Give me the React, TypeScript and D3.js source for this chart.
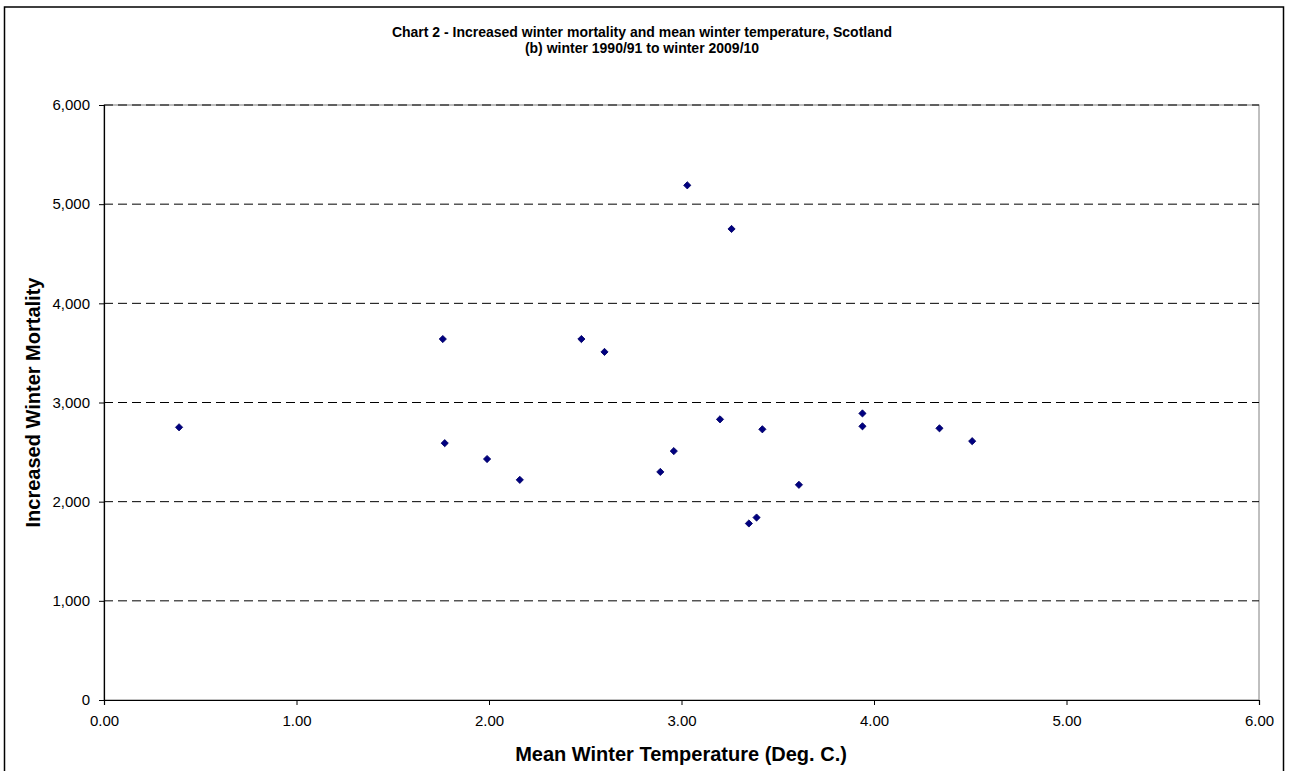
import { useEffect, useRef } from "react";
import * as d3 from "d3";

const temperature = [
  0.39, 1.76, 1.77, 1.99, 2.16, 2.48, 2.6, 2.89, 2.96, 3.03,
  3.2, 3.26, 3.35, 3.39, 3.42, 3.61, 3.94, 3.94, 4.34, 4.51,
];
const mortality = [
  2750, 3640, 2590, 2430, 2220, 3640, 3510, 2300, 2510, 5190,
  2830, 4750, 1780, 1840, 2730, 2170, 2890, 2760, 2740, 2610,
];
const xTicks = [0, 1, 2, 3, 4, 5, 6];
const yTicks = [0, 1000, 2000, 3000, 4000, 5000, 6000];

const W = 1290;
const H = 771;
const left = 104;
const right = 1259;
const top = 105;
const bottom = 700;
const font = "'Liberation Sans', Arial, sans-serif";

export default function App() {
  const gx = useRef<SVGGElement>(null);
  const gy = useRef<SVGGElement>(null);

  const x = d3.scaleLinear().domain([0, 6]).range([left, right]);
  const y = d3.scaleLinear().domain([0, 6000]).range([bottom, top]);

  useEffect(() => {
    const ax = d3
      .axisBottom(x)
      .tickValues(xTicks)
      .tickFormat((d) => d3.format(".2f")(d as number))
      .tickSize(5)
      .tickPadding(10);
    const sx = d3.select(gx.current!).call(ax);
    sx.select(".domain").attr("stroke", "#000").attr("stroke-width", 1.2);
    sx.selectAll(".tick line").attr("stroke", "#000");
    sx.selectAll(".tick text")
      .attr("font-family", font)
      .attr("font-size", 15)
      .attr("fill", "#000");

    const ay = d3
      .axisLeft(y)
      .tickValues(yTicks)
      .tickFormat((d) => d3.format(",")(d as number))
      .tickSize(5)
      .tickPadding(9);
    const sy = d3.select(gy.current!).call(ay);
    sy.select(".domain").attr("stroke", "#000").attr("stroke-width", 1.2);
    sy.selectAll(".tick line").attr("stroke", "#000");
    sy.selectAll(".tick text")
      .attr("font-family", font)
      .attr("font-size", 15)
      .attr("fill", "#000");
  }, []);

  const diamond = d3.symbol().type(d3.symbolSquare).size(26)();

  return (
    <svg
      width={W}
      height={H}
      style={{ position: "absolute", left: 0, top: 0, background: "#fff" }}
    >
      <rect x={4.5} y={7} width={1279} height={780} fill="#fff" stroke="#000" strokeWidth={1.5} />
      <text x={642} y={37} textAnchor="middle" fontFamily={font} fontSize={14} fontWeight="bold">
        Chart 2 - Increased winter mortality and mean winter temperature, Scotland
      </text>
      <text x={642} y={53} textAnchor="middle" fontFamily={font} fontSize={14} fontWeight="bold">
        (b) winter 1990/91 to winter 2009/10
      </text>

      <rect x={left} y={top} width={right - left} height={bottom - top} fill="#fff" stroke="#808080" strokeWidth={1} />
      {yTicks.filter((t) => t > 0).map((t) => (
        <line
          key={t}
          x1={left}
          x2={right}
          y1={y(t)}
          y2={y(t)}
          stroke="#000"
          strokeWidth={1}
          strokeDasharray="9,5"
        />
      ))}

      <g ref={gx} transform={`translate(0,${bottom})`} />
      <g ref={gy} transform={`translate(${left},0)`} />

      {temperature.map((t, i) => (
        <path
          key={i}
          d={diamond!}
          transform={`translate(${x(t)},${y(mortality[i])}) rotate(45)`}
          fill="#000080"
          stroke="#000066"
          strokeWidth={0.8}
        />
      ))}

      <text x={681} y={761} textAnchor="middle" fontFamily={font} fontSize={20} fontWeight="bold">
        Mean Winter Temperature (Deg. C.)
      </text>
      <text
        transform={`translate(40,${(top + bottom) / 2}) rotate(-90)`}
        textAnchor="middle"
        fontFamily={font}
        fontSize={20}
        fontWeight="bold"
      >
        Increased Winter Mortality
      </text>
    </svg>
  );
}
